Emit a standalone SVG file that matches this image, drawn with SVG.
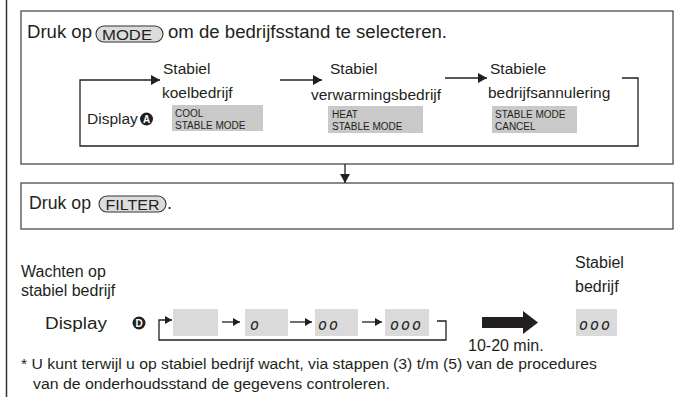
<svg xmlns="http://www.w3.org/2000/svg" width="689" height="397" viewBox="0 0 689 397">
<defs>
<style>
text{font-family:"Liberation Sans",Arial,sans-serif;fill:#231f20}
.h{font-size:18px}
.t{font-size:15.5px}
.b{font-size:16px}
.s{font-size:10px}
.btn{font-size:14px}
.panel{fill:#fff;stroke:#4a4a4a;stroke-width:1.3}
.lcd{fill:#c9c9c9}
.lcd2{fill:#dadada}
.pill{fill:#dcdcdc;stroke:#333;stroke-width:1.1}
.ln{fill:none;stroke:#231f20;stroke-width:1.3}
.seg{font-family:"DejaVu Sans Mono",monospace;font-style:italic;font-size:15px;letter-spacing:2px}
.badge{fill:#231f20}
.bt{font-size:10px;font-weight:bold;fill:#fff;text-anchor:middle}
</style>
<marker id="ah" viewBox="0 0 9 10" refX="9" refY="5" markerWidth="9" markerHeight="10" orient="auto" markerUnits="userSpaceOnUse"><path d="M0,0 L9,5 L0,10 z" fill="#231f20"/></marker>
<marker id="as" viewBox="0 0 7 8" refX="7" refY="4" markerWidth="7" markerHeight="8" orient="auto" markerUnits="userSpaceOnUse"><path d="M0,0 L7,4 L0,8 z" fill="#231f20"/></marker>
</defs>
<rect width="689" height="397" fill="#fff"/>
<line x1="6.5" y1="0" x2="6.5" y2="397" stroke="#333" stroke-width="1.5"/>

<g id="step-mode">
<rect class="panel" x="21" y="11" width="652" height="153"/>
<text class="h" x="27" y="38" textLength="65" lengthAdjust="spacingAndGlyphs">Druk op</text>
<rect class="pill" x="96" y="26" width="67" height="16" rx="8"/>
<text class="btn" x="102" y="39.5" textLength="50" lengthAdjust="spacingAndGlyphs">MODE</text>
<text class="h" x="168" y="38" textLength="279" lengthAdjust="spacingAndGlyphs">om de bedrijfsstand te selecteren.</text>
<text class="t" x="87" y="124">Display</text>
<g id="badge-a"><circle class="badge" cx="146.5" cy="119" r="6.5"/><text class="bt" x="146.5" y="122.6">A</text></g>
</g>

<g id="mode-cool">
<text class="t" x="163" y="74">Stabiel</text>
<text class="t" x="162" y="98">koelbedrijf</text>
<rect class="lcd" x="172" y="105" width="91" height="26"/>
<text class="s" x="175" y="116.5">COOL</text>
<text class="s" x="175" y="128.5">STABLE MODE</text>
</g>

<g id="mode-heat">
<text class="t" x="330" y="74">Stabiel</text>
<text class="t" x="311" y="100">verwarmingsbedrijf</text>
<rect class="lcd" x="328" y="106" width="95" height="27"/>
<text class="s" x="332" y="117.5">HEAT</text>
<text class="s" x="332" y="130">STABLE MODE</text>
</g>

<g id="mode-cancel">
<text class="t" x="490" y="74">Stabiele</text>
<text class="t" x="488" y="98">bedrijfsannulering</text>
<rect class="lcd" x="492" y="106" width="85" height="27"/>
<text class="s" x="495" y="117.5">STABLE MODE</text>
<text class="s" x="495" y="130">CANCEL</text>
</g>

<g id="step-filter">
<rect class="panel" x="21" y="183" width="652" height="46"/>
<text class="h" x="29" y="209" textLength="62" lengthAdjust="spacingAndGlyphs">Druk op</text>
<rect class="pill" x="99" y="196" width="67" height="16" rx="8"/>
<text class="btn" x="105.5" y="209.5" textLength="54" lengthAdjust="spacingAndGlyphs">FILTER</text>
<text class="h" x="167" y="209">.</text>
</g>

<g id="waiting">
<text class="b" x="21" y="277">Wachten op</text>
<text class="b" x="21" y="296">stabiel bedrijf</text>
<text class="b" x="45" y="329" textLength="62" lengthAdjust="spacingAndGlyphs">Display</text>
<g id="badge-d"><circle class="badge" cx="139" cy="323" r="6.5"/><text class="bt" x="139" y="326.6">D</text></g>
<rect class="lcd2" x="173" y="309" width="45" height="27"/>
<rect class="lcd2" x="245" y="309" width="43" height="27"/>
<text class="seg" x="250" y="330">o</text>
<rect class="lcd2" x="315" y="309" width="43" height="27"/>
<text class="seg" x="318" y="330">oo</text>
<rect class="lcd2" x="385" y="309" width="44" height="27"/>
<text class="seg" x="390" y="330">ooo</text>
<text class="b" x="468" y="351">10-20 min.</text>
</g>

<g id="stable">
<text class="b" x="575" y="268">Stabiel</text>
<text class="b" x="575" y="292">bedrijf</text>
<rect class="lcd2" x="576" y="309" width="41" height="27"/>
<text class="seg" x="579" y="330">ooo</text>
</g>

<g id="note">
<text class="t" x="21" y="369" textLength="576" lengthAdjust="spacingAndGlyphs">* U kunt terwijl u op stabiel bedrijf wacht, via stappen (3) t/m (5) van de procedures</text>
<text class="t" x="33" y="389" textLength="357" lengthAdjust="spacingAndGlyphs">van de onderhoudsstand de gegevens controleren.</text>
</g>

<g id="connectors">
<path class="ln" d="M622,78 H638 V146 H80 V80 H160" marker-end="url(#ah)"/>
<path class="ln" d="M280,80 H322" marker-end="url(#ah)"/>
<path class="ln" d="M445,78 H487" marker-end="url(#ah)"/>
<path class="ln" d="M345,164 V183" marker-end="url(#ah)"/>
<path class="ln" d="M437,321 H446 V340 H159 V320 H172" marker-end="url(#as)"/>
<path class="ln" d="M222,322 H240" marker-end="url(#as)"/>
<path class="ln" d="M290,322 H312" marker-end="url(#as)"/>
<path class="ln" d="M362,322 H382" marker-end="url(#as)"/>
<path d="M482,317 H523 V311 L538,322.5 L523,334 V328 H482 Z" fill="#231f20"/>
</g>
</svg>
